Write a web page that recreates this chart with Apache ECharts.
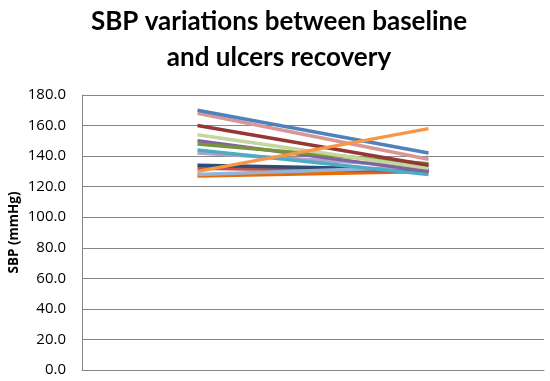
<!DOCTYPE html>
<html><head><meta charset="utf-8">
<script src="https://cdn.jsdelivr.net/npm/echarts@6/dist/echarts.min.js"></script>
<style>html,body{margin:0;padding:0;background:#fff}#c{width:550px;height:381px}</style>
</head><body><div id="c"></div>
<script>
var categories = ['Baseline', 'Ulcers recovery'];
var yTicks = [0, 20, 40, 60, 80, 100, 120, 140, 160, 180];
var p1 = [170, 142];
var p2 = [168, 138];
var p3 = [160, 134];
var p4 = [154, 132];
var p5 = [150, 130];
var p6 = [148, 135];
var p7 = [144, 128];
var p8 = [142, 133];
var p9 = [134, 131];
var p10 = [132, 130];
var p11 = [130, 158];
var p12 = [128, 133];
var p13 = [127, 130];
var seriesData = [p1, p2, p3, p4, p5, p6, p7, p8, p9, p10, p11, p12, p13];
var colors = ['#4F81BD', '#D99694', '#953735', '#C3D69B', '#8064A2', '#77933C', '#4BACC6', '#B3A2C7', '#2C4D75', '#C0504D', '#F79646', '#95B3D7', '#E46C0A'];
var order = [12, 9, 8, 11, 7, 6, 4, 5, 3, 2, 1, 0, 10];
var series = order.map(function (i) {
  return {
    type: 'line', data: seriesData[i], symbol: 'none',
    lineStyle: { width: 3.5, color: colors[i] }, itemStyle: { color: colors[i] },
    silent: true
  };
});
var chart = echarts.init(document.getElementById('c'), null, { renderer: 'canvas' });
chart.setOption({
  animation: false,
  title: {
    text: 'SBP variations between baseline\nand ulcers recovery',
    left: 274, top: -1, textAlign: 'center',
    textStyle: { fontFamily: 'Lato', fontWeight: 'bold', fontSize: 26, lineHeight: 36, color: '#000' }
  },
  grid: { left: 82, right: 6, top: 95, bottom: 11, containLabel: false, outerBoundsMode: 'none' },
  xAxis: {
    type: 'category', data: categories, boundaryGap: true,
    axisLine: { lineStyle: { color: '#868686', width: 1 } },
    axisTick: { show: false }, axisLabel: { show: false }
  },
  yAxis: {
    type: 'value', min: 0, max: 180, interval: 20,
    name: 'SBP (mmHg)', nameLocation: 'middle', nameGap: 61, nameRotate: 90, nameMoveOverlap: false,
    nameTextStyle: { fontFamily: 'Open Sans', fontWeight: 'bold', fontSize: 13.5, color: '#000' },
    axisLine: { show: true, lineStyle: { color: '#868686', width: 1 } },
    axisTick: { show: false },
    axisLabel: { fontFamily: 'Open Sans', fontSize: 15, color: '#000', margin: 16,
      formatter: function (v) { return yTicks.indexOf(v) >= 0 ? v.toFixed(1) : ''; } },
    splitLine: { lineStyle: { color: '#868686', width: 1 } }
  },
  series: series
});
</script></body></html>
